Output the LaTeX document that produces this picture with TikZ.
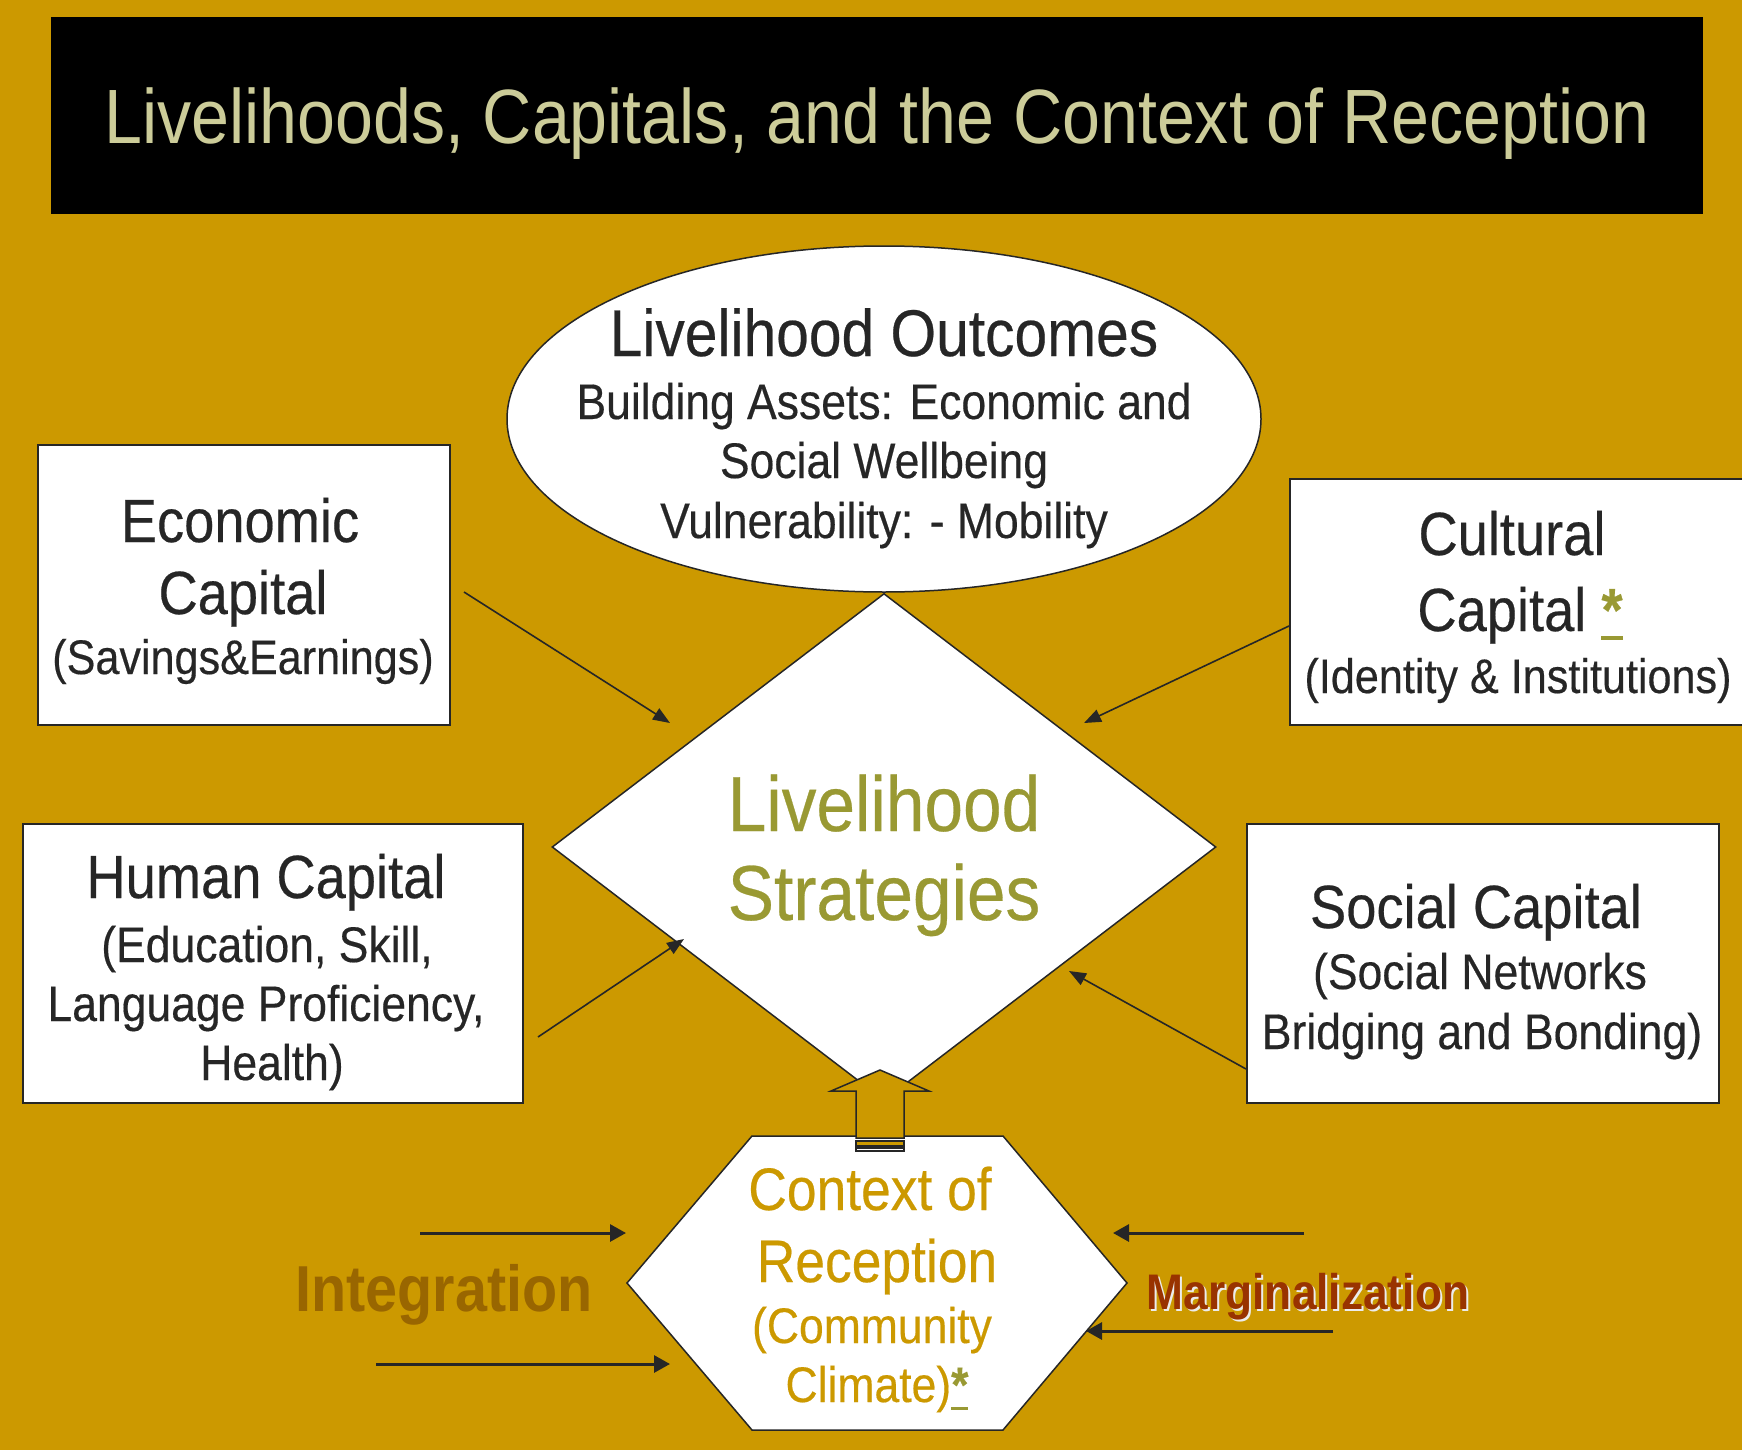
\documentclass[tikz,border=0pt]{standalone}
\usepackage{fontspec}
\usetikzlibrary{arrows.meta,shapes.geometric}
\newfontfamily\af[FakeStretch=0.89,FakeBold=0.35]{Liberation Sans}
\newfontfamily\aft[FakeStretch=0.885]{Liberation Sans}
\newcommand\myfs[1]{\fontsize{#1}{#1}\selectfont}
\definecolor{bg}{HTML}{CC9900}
\definecolor{ttl}{HTML}{CCCC99}
\definecolor{olv}{HTML}{999933}
\definecolor{ink}{HTML}{262626}
\definecolor{intc}{HTML}{996600}
\definecolor{marc}{HTML}{993300}
\newcommand\ustar{\textcolor{olv}{\setbox0\hbox{\bfseries *}\rlap{\copy0}\rule[-0.15em]{\wd0}{0.06em}}}
\begin{document}
\begin{tikzpicture}[x=1pt,y=-1pt,
  txt/.style={inner sep=0pt, anchor=base, text=ink},
  capbox/.style={draw=ink, line width=1.5pt, fill=white, inner sep=0pt, anchor=north west},
  conn/.style={draw=ink, line width=1.6pt, -{Triangle[length=17pt,width=13pt]}},
  flowarr/.style={draw=ink, line width=3pt, -{Triangle[length=16pt,width=17pt]}},
  shapeline/.style={draw=ink, line width=1.5pt}
]
\fill[bg] (0,0) rectangle (1742,1450);
\useasboundingbox (0,0) rectangle (1742,1450);

% title
\node[fill=black, inner sep=0pt, minimum width=1652pt, minimum height=197pt, anchor=north west] (titlebox) at (51,17) {};
\node[txt, text=ttl, font=\aft\myfs{77}] (title) at (877,144) {Livelihoods, Capitals, and the Context of Reception};

% outcomes ellipse
\node[ellipse, shapeline, fill=white, minimum width=754pt, minimum height=346pt, inner sep=0pt] (outc) at (884,419) {};
\node[txt, font=\af\myfs{66}] (o1) at (884,356) {Livelihood Outcomes};
\node[txt, font=\af\myfs{50}] (o2) at (884,419) {Building Assets: Economic and};
\node[txt, font=\af\myfs{50}] (o3) at (884,478) {Social Wellbeing};
\node[txt, font=\af\myfs{50}] (o4) at (884,538) {Vulnerability: - Mobility};

% strategies diamond
\node[diamond, shapeline, fill=white, minimum width=664pt, minimum height=507pt, inner sep=0pt] (strat) at (884,847) {};
\node[txt, text=olv, font=\af\myfs{78}] (l1) at (884,831) {Livelihood};
\node[txt, text=olv, font=\af\myfs{78}] (l2) at (884,920) {Strategies};

% capital boxes
\node[capbox, minimum width=412pt, minimum height=280pt] (econ) at (37,444) {};
\node[txt, font=\af\myfs{61}] (e1) at (240,542) {Economic};
\node[txt, font=\af\myfs{61}] (e2) at (243,614) {Capital};
\node[txt, font=\af\myfs{48.5}] (e3) at (243,674) {(Savings\&Earnings)};

\node[capbox, minimum width=458pt, minimum height=246pt] (cult) at (1289,478) {};
\node[txt, font=\af\myfs{61}] (c1) at (1512,555) {Cultural};
\node[txt, font=\af\myfs{61}] (c2) at (1520,631) {Capital \ustar};
\node[txt, font=\af\myfs{48.5}] (c3) at (1518,693) {(Identity \& Institutions)};

\node[capbox, minimum width=500pt, minimum height=279pt] (human) at (22,823) {};
\node[txt, font=\af\myfs{61}] (h1) at (266,898) {Human Capital};
\node[txt, font=\af\myfs{50}] (h2) at (267,962) {(Education, Skill,};
\node[txt, font=\af\myfs{50}] (h3) at (266,1021) {Language Proficiency,};
\node[txt, font=\af\myfs{50}] (h4) at (272,1080) {Health)};

\node[capbox, minimum width=472pt, minimum height=279pt] (social) at (1246,823) {};
\node[txt, font=\af\myfs{61}] (s1) at (1476,928) {Social Capital};
\node[txt, font=\af\myfs{50}] (s2) at (1480,989) {(Social Networks};
\node[txt, font=\af\myfs{50}] (s3) at (1482,1049) {Bridging and Bonding)};

% context hexagon
\coordinate (hx1) at (752,1136);
\coordinate (hx2) at (1003,1136);
\coordinate (hx3) at (1127,1283);
\coordinate (hx4) at (1003,1430);
\coordinate (hx5) at (752,1430);
\coordinate (hx6) at (627,1283);
\draw[shapeline, fill=white] (hx1) -- (hx2) -- (hx3) -- (hx4) -- (hx5) -- (hx6) -- cycle;
\node[txt, text=bg, font=\af\myfs{60}] (x1) at (870,1210) {Context of};
\node[txt, text=bg, font=\af\myfs{60}] (x2) at (877,1282) {Reception};
\node[txt, text=bg, font=\af\myfs{50}] (x3) at (872,1343) {(Community};
\node[txt, text=bg, font=\af\myfs{50}] (x4) at (877,1402) {Climate)\ustar};

% block arrow from context to strategies
\draw[shapeline, fill=bg] (880,1070) -- (929,1091) -- (904,1091) -- (904,1138) -- (856,1138) -- (856,1091) -- (831,1091) -- cycle;
\draw[draw=ink, line width=1.2pt, fill=bg] (856,1141) rectangle (904,1146);
\draw[draw=ink, line width=1.2pt, fill=white] (856,1148) rectangle (904,1151);

% side labels
\node[txt, text=intc, font=\aft\bfseries\myfs{65}] (integ) at (444,1311) {Integration};
\node[txt, text=white!85!gray, font=\aft\bfseries\myfs{50}] (margsh) at (1310,1311) {Marginalization};
\node[txt, text=marc, font=\aft\bfseries\myfs{50}] (marg) at (1308,1309) {Marginalization};

% connector ends
\coordinate (econS) at (464,592);   \coordinate (econE) at (670,723);
\coordinate (humS) at (538,1037);   \coordinate (humE) at (684,939);
\coordinate (cultS) at (1289,626);  \coordinate (cultE) at (1084,723);
\coordinate (socS) at (1246,1069);  \coordinate (socE) at (1069,971);
\draw[conn] (econS) -- (econE);
\draw[conn] (humS) -- (humE);
\draw[conn] (cultS) -- (cultE);
\draw[conn] (socS) -- (socE);

\coordinate (i1S) at (420,1233);  \coordinate (i1E) at (626,1233);
\coordinate (i2S) at (376,1364);  \coordinate (i2E) at (670,1364);
\coordinate (m1S) at (1304,1233); \coordinate (m1E) at (1113,1233);
\coordinate (m2S) at (1333,1331); \coordinate (m2E) at (1086,1331);
\draw[flowarr] (i1S) -- (i1E);
\draw[flowarr] (i2S) -- (i2E);
\draw[flowarr] (m1S) -- (m1E);
\draw[flowarr] (m2S) -- (m2E);
\end{tikzpicture}
\end{document}
